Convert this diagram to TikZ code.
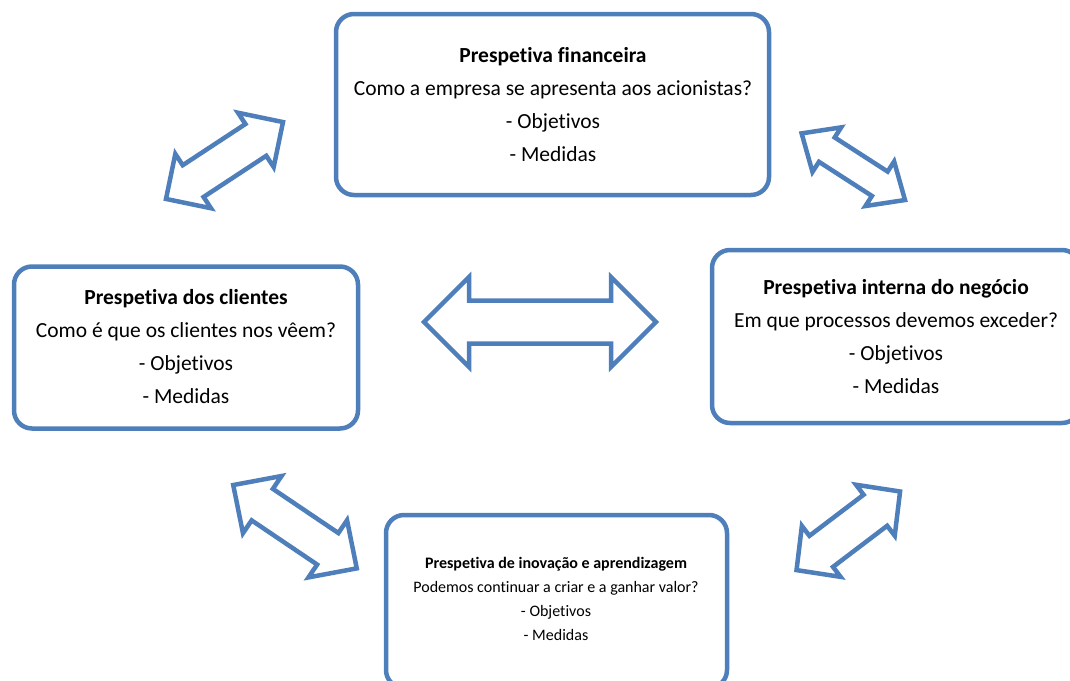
\documentclass[tikz,border=0pt]{standalone}
\usepackage{fontspec}
\setmainfont{Carlito}[Ligatures={NoCommon}]
\definecolor{boxblue}{HTML}{4E7FBA}

% Outlined double-headed block arrow:
% #1 centre, #2 angle, #3 total length, #4 head half-width,
% #5 shaft half-width, #6 head length
\newcommand\blockarrow[6]{%
  \begin{scope}[shift={#1}, rotate=#2]
    \draw[blockline]
      ({-#3/2},0) -- ({-#3/2+#6},{#4}) -- ({-#3/2+#6},{#5})
      -- ({#3/2-#6},{#5}) -- ({#3/2-#6},{#4}) -- ({#3/2},0)
      -- ({#3/2-#6},{-#4}) -- ({#3/2-#6},{-#5})
      -- ({-#3/2+#6},{-#5}) -- ({-#3/2+#6},{-#4}) -- cycle;
  \end{scope}}

\begin{document}
\begin{tikzpicture}[x=1pt, y=-1pt,
  perspbox/.style={draw=boxblue, line width=4.5pt, fill=white,
    rounded corners=18pt, inner sep=0pt},
  bigtext/.style={align=center, font=\fontsize{21.5}{33}\selectfont},
  smalltext/.style={align=center, font=\fontsize{16}{24}\selectfont},
  blockline/.style={draw=boxblue, line width=4.5pt, fill=white}]

\useasboundingbox (0,0) rectangle (1070,680);
\clip (0,0) rectangle (1070,680);

% Perspective boxes
\node[perspbox, minimum width=433pt, minimum height=181pt] (fin) at (552.5,104.5) {};
\node[perspbox, minimum width=344pt, minimum height=162pt] (cli) at (186,347.5) {};
\node[perspbox, minimum width=368pt, minimum height=173pt] (int) at (896,336.5) {};
\node[perspbox, minimum width=341pt, minimum height=173pt] (ino) at (556.5,601.5) {};

% Box texts
\node[bigtext] (fintxt) at (553,104.5)
  {\textbf{Prespetiva financeira}\\Como a empresa se apresenta aos acionistas?\\- Objetivos\\- Medidas};
\node[bigtext] (clitxt) at (186,347)
  {\textbf{Prespetiva dos clientes}\\Como é que os clientes nos vêem?\\- Objetivos\\- Medidas};
\node[bigtext] (inttxt) at (896,336.5)
  {\textbf{Prespetiva interna do negócio}\\Em que processos devemos exceder?\\- Objetivos\\- Medidas};
\node[smalltext] (inotxt) at (556,599)
  {\textbf{Prespetiva de inovação e aprendizagem}\\Podemos continuar a criar e a ganhar valor?\\- Objetivos\\- Medidas};

% Double arrows between the perspectives
\blockarrow{(540,322)}{0}{232}{45}{21.5}{45}
\blockarrow{(224.5,160.5)}{33.3}{140}{32.5}{19}{32.5}
\blockarrow{(853.3,166.7)}{-32.8}{123}{26.5}{14.5}{30}
\blockarrow{(295,526.7)}{-34}{149}{34.5}{19}{35}
\blockarrow{(848.3,530.8)}{37.2}{130}{32}{19.5}{31}

\end{tikzpicture}
\end{document}
